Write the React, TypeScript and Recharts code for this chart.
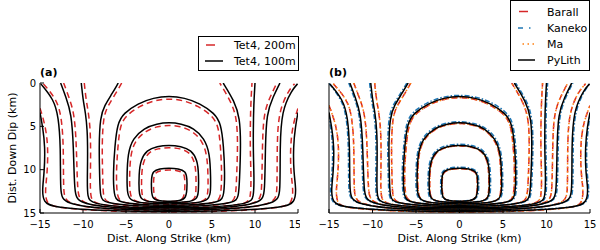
import React from 'react';
import { LineChart, Line, XAxis, YAxis } from 'recharts';

const FONT = '"DejaVu Sans", sans-serif';

// axis ticks
const X_TICKS = [-15, -10, -5, 0, 5, 10, 15];
const Y_TICKS = [0, 5, 10, 15];

// ---- Tet4, 100m (also PyLith in panel b): contour paths [along strike, down dip]
const K1 = [[0,13.65],[-1.3,13.6],[-1.95,13.3],[-2.05,12.3],[-2.05,11.0],[-1.9,10.2],[-1.1,9.88],[0,9.82],[1.1,9.88],[1.95,10.2],[2.1,11.0],[2.1,12.3],[1.95,13.3],[1.3,13.6],[0,13.65]];
const K2 = [[0,13.8],[-2.2,13.75],[-3.3,13.45],[-3.5,12.6],[-3.5,10.5],[-3.3,8.9],[-2.6,7.75],[-1.4,7.3],[0,7.15],[1.4,7.3],[2.6,7.75],[3.3,8.9],[3.45,10.5],[3.45,12.6],[3.25,13.45],[2.2,13.75],[0,13.8]];
const K3 = [[0,13.95],[-2.8,13.9],[-4.5,13.6],[-4.85,12.8],[-4.9,11.0],[-4.8,8.1],[-4.2,6.4],[-2.9,5.2],[-1.4,4.7],[0,4.55],[1.4,4.7],[2.9,5.2],[4.1,6.4],[4.75,8.1],[4.85,11.0],[4.85,12.8],[4.5,13.6],[2.8,13.9],[0,13.95]];
const K4 = [[0,14.1],[-3.2,14.05],[-6.0,13.75],[-6.4,13.0],[-6.5,10.4],[-6.3,7.3],[-6.0,4.7],[-5.3,3.5],[-3.6,2.35],[-1.8,1.7],[0,1.5],[1.8,1.7],[3.6,2.35],[5.3,3.5],[6.05,4.7],[6.35,7.3],[6.5,10.4],[6.4,13.0],[6.0,13.75],[3.2,14.05],[0,14.1]];
const K5 = [[-5.9,0],[-6.6,1.2],[-7.5,2.6],[-8.0,3.9],[-8.15,7.3],[-8.05,11.2],[-8.0,13.2],[-7.5,13.85],[-4,14.2],[0,14.27],[4,14.2],[7.6,13.85],[8.1,13.2],[8.2,11.2],[8.35,7.3],[8.25,4.0],[7.6,2.1],[6.3,0]];
const K6 = [[-10.2,0],[-10.0,1.9],[-9.7,3.5],[-9.5,5.4],[-9.45,8],[-9.5,11],[-9.5,13.2],[-9.0,13.95],[-5,14.35],[0,14.42],[5,14.35],[9.4,13.95],[9.85,13.2],[9.9,11],[9.8,8],[9.8,5.4],[9.85,2.5],[10.0,0]];
const K7 = [[-12.6,0],[-12.0,1.6],[-11.35,3.5],[-11.1,7.3],[-11.0,12.7],[-10.6,13.9],[-6,14.48],[0,14.57],[6,14.48],[10.8,13.9],[11.15,12.7],[11.2,7.3],[11.35,3.5],[12.1,1.6],[12.9,0]];
const K8 = [[-14.9,0.1],[-13.4,1.9],[-12.85,3.9],[-12.6,7.3],[-12.65,12.7],[-12.3,13.95],[-7,14.62],[0,14.7],[7,14.62],[12.6,13.95],[12.95,12.7],[12.9,7.3],[13.1,3.2],[14.3,0.8],[14.95,0.1]];
const K9 = [[-15,3.4],[-14.7,5],[-14.4,7.3],[-14.5,10.4],[-14.75,12.3],[-14.6,13.8],[-13.5,14.35],[-7,14.78],[0,14.86],[7,14.78],[13.5,14.35],[14.6,13.8],[14.8,12.3],[14.5,10.4],[14.45,7.3],[14.7,5],[15,3.4]];

// ---- Tet4, 200m
const R1 = [[0,13.7],[-1.1,13.65],[-1.7,13.35],[-1.8,12.3],[-1.8,11.0],[-1.65,10.35],[-0.95,10.08],[0,10.02],[0.95,10.08],[1.7,10.35],[1.85,11.0],[1.85,12.3],[1.7,13.35],[1.1,13.65],[0,13.7]];
const R2 = [[0,13.85],[-2.0,13.8],[-3.0,13.5],[-3.2,12.6],[-3.2,10.5],[-3.0,9.1],[-2.4,7.98],[-1.3,7.55],[0,7.42],[1.3,7.55],[2.4,7.98],[3.0,9.1],[3.15,10.5],[3.15,12.6],[3.0,13.5],[2.0,13.8],[0,13.85]];
const R3 = [[0,14.0],[-2.6,13.95],[-4.2,13.65],[-4.55,12.8],[-4.6,11.0],[-4.5,8.3],[-3.95,6.65],[-2.7,5.5],[-1.3,5.0],[0,4.85],[1.3,5.0],[2.7,5.5],[3.85,6.65],[4.45,8.3],[4.55,11.0],[4.55,12.8],[4.2,13.65],[2.6,13.95],[0,14.0]];
const R4 = [[0,14.15],[-3.0,14.1],[-5.7,13.8],[-6.05,13.0],[-6.15,10.4],[-5.95,7.4],[-5.7,4.95],[-5.05,3.8],[-3.4,2.65],[-1.7,2.0],[0,1.8],[1.7,2.0],[3.4,2.65],[5.05,3.8],[5.75,4.95],[6.0,7.4],[6.15,10.4],[6.05,13.0],[5.7,13.8],[3.0,14.1],[0,14.15]];
const R5 = [[-5.5,0],[-6.25,1.3],[-7.15,2.7],[-7.65,4.0],[-7.8,7.3],[-7.7,11.2],[-7.65,13.2],[-7.2,13.9],[-4,14.25],[0,14.32],[4,14.25],[7.3,13.9],[7.75,13.2],[7.85,11.2],[8.0,7.3],[7.9,4.1],[7.25,2.2],[5.9,0]];
const R6 = [[-9.85,0],[-9.65,1.9],[-9.35,3.5],[-9.15,5.4],[-9.1,8],[-9.15,11],[-9.15,13.2],[-8.7,14.0],[-5,14.4],[0,14.47],[5,14.4],[9.1,14.0],[9.5,13.2],[9.55,11],[9.45,8],[9.45,5.4],[9.5,2.5],[9.65,0]];
const R7 = [[-12.25,0],[-11.65,1.6],[-11.0,3.5],[-10.75,7.3],[-10.65,12.7],[-10.3,13.95],[-6,14.52],[0,14.61],[6,14.52],[10.5,13.95],[10.8,12.7],[10.85,7.3],[11.0,3.5],[11.75,1.6],[12.55,0]];
const R8 = [[-14.6,0.1],[-13.05,1.9],[-12.5,3.9],[-12.25,7.3],[-12.3,12.7],[-12.0,14.0],[-7,14.66],[0,14.74],[7,14.66],[12.3,14.0],[12.6,12.7],[12.55,7.3],[12.75,3.2],[13.95,0.8],[14.6,0.1]];
const R9 = [[-15,2.9],[-14.4,4.8],[-14.05,7.3],[-14.15,10.4],[-14.4,12.3],[-14.3,13.85],[-13.3,14.4],[-7,14.82],[0,14.9],[7,14.82],[13.3,14.4],[14.3,13.85],[14.45,12.3],[14.15,10.4],[14.1,7.3],[14.4,4.8],[15,2.9]];

// ---- Barall (also drawn for Ma, which coincides)
const B1 = [[0,13.67],[-1.25,13.62],[-1.9,13.32],[-2.0,12.3],[-2.0,11.0],[-1.85,10.25],[-1.05,9.93],[0,9.87],[1.05,9.93],[1.9,10.25],[2.05,11.0],[2.05,12.3],[1.9,13.32],[1.25,13.62],[0,13.67]];
const B2 = [[0,13.82],[-2.15,13.77],[-3.25,13.47],[-3.43,12.6],[-3.43,10.5],[-3.23,8.95],[-2.55,7.8],[-1.38,7.36],[0,7.21],[1.38,7.36],[2.55,7.8],[3.23,8.95],[3.38,10.5],[3.38,12.6],[3.2,13.47],[2.15,13.77],[0,13.82]];
const B3 = [[0,13.97],[-2.75,13.92],[-4.43,13.62],[-4.77,12.8],[-4.82,11.0],[-4.72,8.15],[-4.13,6.47],[-2.84,5.28],[-1.38,4.78],[0,4.63],[1.38,4.78],[2.84,5.28],[4.03,6.47],[4.67,8.15],[4.77,11.0],[4.77,12.8],[4.43,13.62],[2.75,13.92],[0,13.97]];
const B4 = [[0,14.12],[-3.15,14.07],[-5.85,13.77],[-6.25,13.0],[-6.35,10.4],[-6.15,7.35],[-5.85,4.8],[-5.2,3.62],[-3.52,2.47],[-1.76,1.82],[0,1.62],[1.76,1.82],[3.52,2.47],[5.2,3.62],[5.9,4.8],[6.2,7.35],[6.35,10.4],[6.25,13.0],[5.85,13.77],[3.15,14.07],[0,14.12]];
const B5 = [[-5.6,0],[-6.3,1.25],[-7.2,2.65],[-7.7,3.95],[-7.85,7.3],[-7.75,11.2],[-7.7,13.2],[-7.25,13.88],[-4,14.23],[0,14.3],[4,14.23],[7.3,13.88],[7.8,13.2],[7.9,11.2],[8.05,7.3],[7.95,4.05],[7.3,2.15],[6.0,0]];
const B6 = [[-9.75,0],[-9.55,1.9],[-9.25,3.5],[-9.05,5.4],[-9.0,8],[-9.05,11],[-9.05,13.2],[-8.6,13.98],[-5,14.38],[0,14.45],[5,14.38],[9.0,13.98],[9.4,13.2],[9.45,11],[9.35,8],[9.35,5.4],[9.4,2.5],[9.55,0]];
const B7 = [[-12.15,0],[-11.55,1.6],[-10.85,3.5],[-10.6,7.3],[-10.5,12.7],[-10.15,13.93],[-6,14.5],[0,14.6],[6,14.5],[10.35,13.93],[10.65,12.7],[10.7,7.3],[10.85,3.5],[11.6,1.6],[12.45,0]];
const B8 = [[-14.5,0.1],[-12.9,1.9],[-12.35,3.9],[-12.1,7.3],[-12.15,12.7],[-11.85,14.0],[-7,14.64],[0,14.73],[7,14.64],[12.15,14.0],[12.45,12.7],[12.4,7.3],[12.6,3.2],[13.8,0.8],[14.5,0.1]];
const B9 = [[-15,2.6],[-14.2,4.7],[-13.85,7.3],[-13.95,10.4],[-14.2,12.3],[-14.1,13.9],[-13.2,14.42],[-7,14.83],[0,14.9],[7,14.83],[13.2,14.42],[14.1,13.9],[14.25,12.3],[13.95,10.4],[13.9,7.3],[14.2,4.7],[15,2.6]];

// ---- Kaneko
const N1 = [[0,13.63],[-1.35,13.58],[-2.08,13.28],[-2.17,12.3],[-2.17,11.0],[-2.02,10.12],[-1.18,9.76],[0,9.7],[1.18,9.76],[2.07,10.12],[2.22,11.0],[2.22,12.3],[2.08,13.28],[1.35,13.58],[0,13.63]];
const N2 = [[0,13.78],[-2.3,13.73],[-3.45,13.42],[-3.63,12.6],[-3.63,10.5],[-3.43,8.82],[-2.7,7.63],[-1.45,7.17],[0,7.02],[1.45,7.17],[2.7,7.63],[3.43,8.82],[3.58,10.5],[3.58,12.6],[3.4,13.42],[2.3,13.73],[0,13.78]];
const N3 = [[0,13.93],[-2.9,13.88],[-4.62,13.57],[-4.98,12.8],[-5.03,11.0],[-4.93,8.02],[-4.32,6.3],[-2.98,5.08],[-1.45,4.57],[0,4.42],[1.45,4.57],[2.98,5.08],[4.22,6.3],[4.88,8.02],[4.98,11.0],[4.98,12.8],[4.62,13.57],[2.9,13.88],[0,13.93]];
const N4 = [[0,14.08],[-3.3,14.03],[-6.15,13.72],[-6.53,13.0],[-6.63,10.4],[-6.43,7.25],[-6.13,4.58],[-5.45,3.36],[-3.7,2.2],[-1.85,1.56],[0,1.37],[1.85,1.56],[3.7,2.2],[5.45,3.36],[6.18,4.58],[6.48,7.25],[6.63,10.4],[6.53,13.0],[6.15,13.72],[3.3,14.03],[0,14.08]];
const N5 = [[-6.05,0],[-6.75,1.15],[-7.65,2.55],[-8.15,3.85],[-8.28,7.3],[-8.18,11.2],[-8.12,13.2],[-7.65,13.82],[-4,14.18],[0,14.25],[4,14.18],[7.75,13.82],[8.22,13.2],[8.33,11.2],[8.48,7.3],[8.38,3.95],[7.75,2.05],[6.45,0]];
const N6 = [[-10.33,0],[-10.13,1.9],[-9.83,3.5],[-9.63,5.4],[-9.58,8],[-9.63,11],[-9.63,13.2],[-9.13,13.92],[-5,14.33],[0,14.4],[5,14.33],[9.53,13.92],[9.98,13.2],[10.03,11],[9.93,8],[9.93,5.4],[9.98,2.5],[10.13,0]];
const N7 = [[-12.73,0],[-12.13,1.6],[-11.48,3.5],[-11.23,7.3],[-11.13,12.7],[-10.73,13.87],[-6,14.46],[0,14.55],[6,14.46],[10.93,13.87],[11.28,12.7],[11.33,7.3],[11.48,3.5],[12.23,1.6],[13.03,0]];
const N8 = [[-15,0.05],[-13.53,1.9],[-12.98,3.9],[-12.73,7.3],[-12.78,12.7],[-12.43,13.92],[-7,14.6],[0,14.68],[7,14.6],[12.73,13.92],[13.08,12.7],[13.03,7.3],[13.23,3.2],[14.43,0.75],[15,0.05]];
const N9 = [[-15,3.6],[-14.83,5],[-14.53,7.3],[-14.63,10.4],[-14.88,12.3],[-14.73,13.78],[-13.6,14.33],[-7,14.76],[0,14.84],[7,14.76],[13.6,14.33],[14.73,13.78],[14.93,12.3],[14.63,10.4],[14.58,7.3],[14.83,5],[15,3.6]];

const TET4_100M = [K1, K2, K3, K4, K5, K6, K7, K8, K9];
const TET4_200M = [R1, R2, R3, R4, R5, R6, R7, R8, R9];
const BARALL = [B1, B2, B3, B4, B5, B6, B7, B8, B9];
const KANEKO = [N1, N2, N3, N4, N5, N6, N7, N8, N9];
const MA = [B1, B2, B3, B4, B5, B6, B7, B8, B9];
const PYLITH = [K1, K2, K3, K4, K5, K6, K7, K8, K9];

const toPts = (c: number[][]) => c.map(([x, y]) => ({ x, y }));
const fmt = (v: number) => String(v).replace('-', '\u2212');

type Style = { stroke: string; dash?: string; width: number };
const S_T200: Style = { stroke: '#d62728', dash: '6 4', width: 1.5 };
const S_T100: Style = { stroke: '#000000', width: 1.5 };
const S_BAR: Style = { stroke: '#d62728', dash: '6 4', width: 1.5 };
const S_KAN: Style = { stroke: '#1f77b4', dash: '5 2 1.5 2', width: 1.5 };
const S_MA: Style = { stroke: '#ff7f0e', dash: '1.5 2.5', width: 1.5 };
const S_PY: Style = { stroke: '#000000', width: 1.5 };

function series(prefix: string, set: number[][][], s: Style) {
  return set.map((c, i) => (
    <Line
      key={prefix + i}
      data={toPts(c)}
      dataKey="y"
      type="basis"
      stroke={s.stroke}
      strokeWidth={s.width}
      strokeDasharray={s.dash}
      dot={false}
      activeDot={false}
      isAnimationActive={false}
      legendType="none"
    />
  ));
}

const tickStyle = { fill: '#000', fontSize: 10, fontFamily: FONT };
const axisLine = { stroke: '#000', strokeWidth: 1 };

function Panel({ showY, children, width, yWidth, right }: any) {
  return (
    <LineChart width={width} height={250} margin={{ top: 83, right, bottom: 0, left: 0 }}>
      <XAxis
        dataKey="x"
        type="number"
        domain={[-15, 15]}
        ticks={X_TICKS}
        allowDataOverflow
        height={37}
        tickSize={-4}
        tickMargin={12}
        tickFormatter={fmt}
        tick={tickStyle}
        axisLine={axisLine}
        tickLine={{ stroke: '#000' }}
        label={{
          value: 'Dist. Along Strike (km)',
          position: 'insideBottom',
          offset: 8,
          style: { fill: '#000', fontSize: 11, fontFamily: FONT },
        }}
      />
      <XAxis
        xAxisId="top"
        orientation="top"
        type="number"
        domain={[-15, 15]}
        ticks={X_TICKS}
        height={0}
        tickSize={-4}
        tick={false}
        axisLine={axisLine}
        tickLine={{ stroke: '#000' }}
      />
      <YAxis
        type="number"
        domain={[0, 15]}
        ticks={Y_TICKS}
        reversed
        allowDataOverflow
        width={yWidth}
        tickSize={-4}
        tickMargin={8}
        tick={showY ? tickStyle : false}
        axisLine={axisLine}
        tickLine={{ stroke: '#000' }}
        label={
          showY
            ? {
                value: 'Dist. Down Dip (km)',
                angle: -90,
                position: 'insideLeft',
                offset: 12,
                style: { fill: '#000', fontSize: 11, fontFamily: FONT, textAnchor: 'middle' },
              }
            : undefined
        }
      />
      <YAxis
        yAxisId="right"
        orientation="right"
        type="number"
        domain={[0, 15]}
        ticks={Y_TICKS}
        reversed
        width={0}
        tickSize={-4}
        tick={false}
        axisLine={axisLine}
        tickLine={{ stroke: '#000' }}
      />
      {children}
    </LineChart>
  );
}

export default function App() {
  const txt = { fontFamily: FONT, fontSize: 11, fill: '#000' } as const;
  return (
    <div style={{ position: 'absolute', left: 0, top: 0, width: 600, height: 250, background: '#fff' }}>
      <div style={{ position: 'absolute', left: 0, top: 0 }}>
        <Panel showY width={300} yWidth={40} right={2}>
          {series('r', TET4_200M, S_T200)}
          {series('k', TET4_100M, S_T100)}
        </Panel>
      </div>
      <div style={{ position: 'absolute', left: 300, top: 0 }}>
        <Panel showY={false} width={300} yWidth={29} right={10}>
          {series('b', BARALL, S_BAR)}
          {series('n', KANEKO, S_KAN)}
          {series('m', MA, S_MA)}
          {series('p', PYLITH, S_PY)}
        </Panel>
      </div>
      <svg
        width={600}
        height={250}
        style={{ position: 'absolute', left: 0, top: 0, pointerEvents: 'none' }}
      >
        <text x={40} y={76} style={{ ...txt, fontWeight: 'bold' }}>(a)</text>
        <text x={329} y={76} style={{ ...txt, fontWeight: 'bold' }}>(b)</text>

        <rect x={198.5} y={36.5} width={100} height={34} fill="#fff" stroke="#000" strokeWidth={1} />
        <line x1={206} x2={215} y1={45} y2={45} stroke={S_T200.stroke} strokeWidth={1.5} />
        <text x={234} y={49} style={txt}>Tet4, 200m</text>
        <line x1={205} x2={223} y1={61} y2={61} stroke={S_T100.stroke} strokeWidth={1.5} />
        <text x={234} y={65} style={txt}>Tet4, 100m</text>

        <rect x={510.5} y={0.5} width={79} height={70} fill="#fff" stroke="#000" strokeWidth={1} />
        <line x1={519} x2={528} y1={11.5} y2={11.5} stroke={S_BAR.stroke} strokeWidth={1.5} />
        <text x={547} y={15.5} style={txt}>Barall</text>
        <line x1={518} x2={531} y1={28} y2={28} stroke={S_KAN.stroke} strokeWidth={1.5} strokeDasharray="5 6 1.5 10" />
        <text x={547} y={32} style={txt}>Kaneko</text>
        <line x1={522.5} x2={534} y1={44} y2={44} stroke={S_MA.stroke} strokeWidth={1.5} strokeDasharray="1.5 3.5" />
        <text x={547} y={48} style={txt}>Ma</text>
        <line x1={518} x2={535} y1={60} y2={60} stroke={S_PY.stroke} strokeWidth={1.5} />
        <text x={547} y={64} style={txt}>PyLith</text>
      </svg>
    </div>
  );
}
